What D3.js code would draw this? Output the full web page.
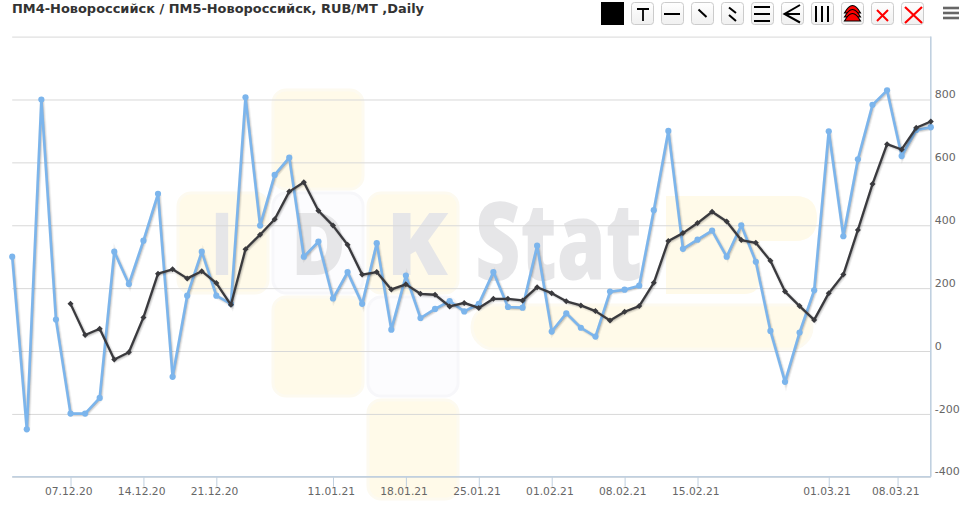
<!DOCTYPE html>
<html><head><meta charset="utf-8">
<script src="https://cdn.jsdelivr.net/npm/d3@7"></script>
<style>
html,body{margin:0;padding:0;background:#fff}
svg{display:block}
text{font-family:"DejaVu Sans",sans-serif}
</style></head><body>
<svg id="c" width="968" height="508"></svg>
<script>
const titleText = "ПМ4-Новороссийск / ПМ5-Новороссийск, RUB/MT ,Daily";
const blueValues = [300,-249,800,100,-199,-199,-149,316,213,351,500,-82,176,316,176,150,807,399,560,615,300,348,167,251,150,343,68,240,105,134,159,126,150,251,140,138,335,62,120,74,46,189,195,208,448,700,325,354,383,300,400,284,64,-98,59,193,699,365,610,783,829,620,703,712];
const blackValues = [null,null,null,null,150,51,71,-27,-4,107,246,260,231,254,216,147,324,370,419,507,537,446,399,338,243,251,196,212,182,179,142,153,137,166,166,161,203,184,158,145,127,97,125,143,217,350,375,407,443,412,353,344,287,189,143,99,184,243,385,531,658,641,710,730];
const tickPositions = [4,9,14,22,27,32,37,42,47,56,60.72];
const tickLabels = ["07.12.20","14.12.20","21.12.20","11.01.21","18.01.21","25.01.21","01.02.21","08.02.21","15.02.21","01.03.21","08.03.21"];
const yTicks = [-400,-200,0,200,400,600,800,1000];
const yLabelled = [-400,-200,0,200,400,600,800];

const svg = d3.select("#c");
const x = d3.scaleLinear().domain([0,63]).range([12.2,930.8]);
const y = d3.scaleLinear().domain([-400,1000]).range([476.8,36.6]);

/* watermark */
const wm = svg.append("g");
const cream="#fffae9", pale="#fcfcfe";
function tile(a,b,w,h,f,r){wm.append("rect").attr("x",a).attr("y",b).attr("width",w).attr("height",h).attr("rx",r||13)
  .attr("fill",f).attr("stroke",f===cream?"#fdfaf0":"#f7f7fa").attr("stroke-width",3);}
tile(273,90,90,99,cream);
tile(178,193,90,100,cream);
tile(273,193,90,100,pale);
tile(368,193,90,100,cream);
tile(273,297,90,99,cream);
tile(368,297,90,99,pale);
tile(368,400,90,99,cream);
tile(472,305,340,44,cream,22);
wm.append("path").attr("fill",cream).attr("d","M666 196H795Q817 196 817 218Q817 241 795 241H760V278Q760 294 744 294H666Z");
function wt(s,a,b,fs,len){const t=wm.append("text").attr("x",a).attr("y",b).attr("font-size",fs).attr("font-weight",800)
  .attr("fill","#e6e6e8").style("font-family","'Open Sans',sans-serif").text(s);
  if(len) t.attr("textLength",len).attr("lengthAdjust","spacingAndGlyphs");}
wt("I",211,275,87,22);
wt("D",291,275,87,55);
wt("K",386,275,87,62);
wt("Stat",475,280,108,167);

/* grid and right axis */
const yAxis = d3.axisRight(y).tickValues(yTicks).tickSize(-(x(63)-x(0))).tickPadding(4)
  .tickFormat(d=>yLabelled.includes(d)?String(d):"");
const gy = svg.append("g").attr("transform",`translate(${x(63)},0)`).call(yAxis);
gy.select(".domain").remove();
gy.selectAll("line").attr("stroke","#d8d8d8").attr("stroke-width",1);
gy.selectAll("text").attr("x",4).attr("dy","-0.17em").attr("fill","#666").attr("font-size",11).style("font-family","'DejaVu Sans',sans-serif");
svg.append("line").attr("x1",x(63)).attr("x2",x(63)).attr("y1",y(1000)).attr("y2",y(-400)).attr("stroke","#c0d0e0").attr("stroke-width",1.6);

/* bottom axis */
const xAxis = d3.axisBottom(x).tickValues(tickPositions).tickSize(10).tickPadding(1)
  .tickFormat((d,i)=>tickLabels[i]);
const gx = svg.append("g").attr("transform",`translate(0,${y(-400)})`).call(xAxis);
gx.select(".domain").attr("stroke","#c0d0e0").attr("stroke-width",1.6).attr("d",`M${x(0)},0H${x(63)}`);
gx.selectAll("line").attr("stroke","#c0d0e0");
gx.selectAll("text").attr("dx",-2.3).attr("fill","#666").attr("font-size",10.7).style("font-family","'DejaVu Sans',sans-serif");

/* series */
const mk = (vals)=>vals.map((v,i)=>({i,v})).filter(d=>d.v!==null);
const line = d3.line().x(d=>x(d.i)).y(d=>y(d.v));
function series(vals,color,w,drawMarks){
  const g = svg.append("g");
  const s = g.append("g").attr("transform","translate(1,1)").attr("fill","none").attr("stroke","#000");
  [[5,.05],[3,.1],[1,.15]].forEach(([sw,o])=>s.append("path").attr("d",line(mk(vals))).attr("stroke-width",sw).attr("stroke-opacity",o));
  g.append("path").attr("d",line(mk(vals))).attr("fill","none").attr("stroke",color).attr("stroke-width",w).attr("stroke-linejoin","round");
  drawMarks(g.append("g"),mk(vals));
}
series(blueValues,"#7cb5ec",2.6,(g,d)=>g.selectAll("circle").data(d).join("circle")
  .attr("cx",p=>x(p.i)).attr("cy",p=>y(p.v)).attr("r",3.1).attr("fill","#7cb5ec"));
series(blackValues,"#3a3a3e",2.3,(g,d)=>g.selectAll("path").data(d).join("path")
  .attr("d","M0,-3L3,0L0,3L-3,0Z").attr("transform",p=>`translate(${x(p.i)},${y(p.v)})`).attr("fill","#3a3a3e"));

/* title */
svg.append("text").attr("x",12).attr("y",13).attr("font-size",13).attr("font-weight",700).attr("fill","#333")
  .attr("textLength",412).attr("lengthAdjust","spacingAndGlyphs").text(titleText);

/* toolbar */
const tb = svg.append("g");
tb.append("rect").attr("x",601).attr("y",2).attr("width",23).attr("height",23).attr("fill","#000");
const grad = svg.append("defs").append("linearGradient").attr("id","bg").attr("x1",0).attr("x2",0).attr("y1",0).attr("y2",1);
grad.append("stop").attr("offset",0).attr("stop-color","#fff");
grad.append("stop").attr("offset",1).attr("stop-color","#f0f0f0");
const icons = [
 {p:"M637 9H649 M643 9V21",c:"#000",w:1.8},
 {p:"M664 14H680",c:"#000",w:2},
 {p:"M698.5 9.5L706.5 17",c:"#000",w:2},
 {p:"M729 7.5L736 13 M729 15L736 21",c:"#000",w:2},
 {p:"M754 7H770 M754 14H770 M754 21H770",c:"#000",w:2},
 {p:"M800 5L784.5 14L800 22.5 M784.5 14H800",c:"#000",w:2},
 {p:"M816 6V22 M822 6V22 M828 6V22",c:"#000",w:2},
 {p:"",c:"#000",w:1},
 {p:"M877 10L888 21 M888 10L877 21",c:"#f00",w:2},
 {p:"M905 7L922 23 M922 7L905 23",c:"#f00",w:2.2}
];
icons.forEach((ic,i)=>{
  const bx = 631.5+30*i;
  tb.append("rect").attr("x",bx).attr("y",2.5).attr("width",22).attr("height",22).attr("rx",3).attr("fill","url(#bg)").attr("stroke","#ccc");
  if(ic.p) tb.append("path").attr("d",ic.p).attr("fill","none").attr("stroke",ic.c).attr("stroke-width",ic.w);
  else {
    [[7],[11],[15]].forEach(([a])=>{
      tb.append("path").attr("d",`M${bx+3},${a+6}Q${bx+11},${a-9} ${bx+19},${a+6}Z`).attr("fill","#f00").attr("stroke","#000").attr("stroke-width",1.2);
    });
  }
});
[8,13,18].forEach(v=>tb.append("line").attr("x1",943).attr("x2",959).attr("y1",v).attr("y2",v).attr("stroke","#666").attr("stroke-width",2.6));
</script>
</body></html>
